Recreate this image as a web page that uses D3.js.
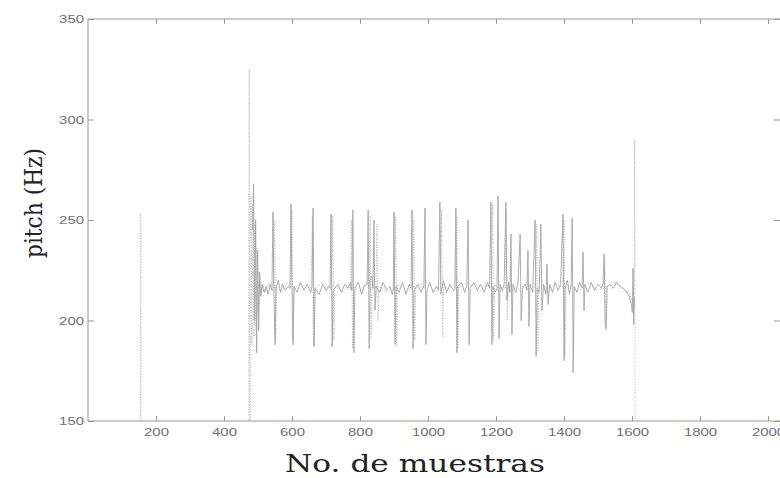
<!DOCTYPE html>
<html>
<head>
<meta charset="utf-8">
<style>
  body { margin: 0; background: #fff; }
  svg { display: block; }
  .tick text { font-family: "Liberation Sans", Arial, sans-serif; font-size: 11px; fill: #707070; }
  .tick line { stroke: #999; }
  .axis-title { font-family: "DejaVu Serif", serif; fill: #222; }
</style>
</head>
<body>
<div id="chart"></div>
<script src="https://cdn.jsdelivr.net/npm/d3@7"></script>
<script>
// tick values
const xTicks = [200, 400, 600, 800, 1000, 1200, 1400, 1600, 1800, 2000];
const yTicks = [150, 200, 250, 300, 350];

// pitch track, solid line  [muestra, Hz]
const solidTrack = [
  [484,245],[487,268],[490,200],[493,250],[496,184],[499,235],[502,195],[505,224],[508,212],[512,218],
  [518,214],[524,217],[530,213],[536,218],[541,215],[544,254],[547,213],[550,188],[553,216],[560,220],
  [566,214],[572,218],[580,215],[588,217],[594,216],[597,258],[600,215],[603,188],[606,217],[615,214],
  [625,219],[635,215],[645,218],[655,214],[659,217],[662,256],[665,187],[668,216],[680,213],[690,218],
  [700,215],[708,217],[712,216],[715,253],[718,187],[721,215],[735,218],[745,214],[755,218],[765,216],
  [772,219],[776,215],[779,255],[782,184],[785,216],[795,219],[805,213],[812,217],[821,218],[824,255],
  [827,186],[830,220],[835,222],[838,216],[841,250],[844,205],[848,217],[858,214],[868,219],[878,215],
  [888,217],[895,213],[898,216],[900,254],[903,188],[906,217],[915,214],[925,219],[935,213],[945,218],
  [950,216],[953,255],[956,186],[959,215],[970,218],[980,214],[986,217],[988,216],[991,256],[994,188],
  [997,215],[1005,219],[1015,214],[1025,217],[1031,215],[1035,259],[1038,213],[1045,220],[1055,214],
  [1065,218],[1075,215],[1079,216],[1082,256],[1085,184],[1088,217],[1098,219],[1108,214],[1114,217],
  [1118,250],[1121,188],[1124,216],[1135,219],[1145,215],[1155,218],[1165,214],[1175,219],[1181,216],
  [1185,259],[1188,188],[1191,217],[1198,214],[1203,216],[1206,262],[1209,191],[1212,218],[1218,215],
  [1224,218],[1229,259],[1232,210],[1237,219],[1241,214],[1244,243],[1247,193],[1250,218],[1258,214],
  [1265,219],[1271,243],[1274,200],[1278,216],[1286,218],[1291,215],[1294,235],[1297,197],[1300,218],
  [1308,214],[1315,250],[1318,182],[1321,216],[1327,214],[1332,248],[1335,205],[1340,218],[1347,213],
  [1350,228],[1353,208],[1358,218],[1366,214],[1374,219],[1382,215],[1390,218],[1397,253],[1400,180],
  [1403,216],[1410,220],[1416,213],[1421,218],[1424,251],[1427,174],[1430,217],[1438,214],[1446,219],
  [1453,216],[1456,234],[1459,205],[1462,218],[1470,214],[1480,219],[1490,215],[1500,218],[1510,216],
  [1515,219],[1518,233],[1521,198],[1524,196],[1527,217],[1535,218],[1545,216],[1555,219],[1565,217],
  [1575,216],[1585,214],[1592,212],[1598,208],[1601,204],[1603,226],[1605,198],[1607,212]
];

// pitch track, dotted line  [muestra, Hz]  (0 = sin voz)
const dottedTrack = [
  [0,0],[154,0],[155,253],[156,0],[473,0],[474,325],[475,0],[478,0],[479,262],[482,188],
  [485,258],[488,192],[491,248],[494,196],[497,236],[500,204],[504,224],[508,212],[514,218],[522,214],
  [532,219],[540,215],[546,216],[549,250],[552,190],[555,217],[570,214],[585,219],[596,216],[600,255],
  [603,190],[606,216],[625,218],[645,214],[656,217],[660,252],[663,188],[666,216],[690,219],[710,215],
  [717,216],[720,252],[723,190],[726,217],[750,214],[770,218],[772,215],[775,250],[778,186],[781,217],
  [800,214],[820,219],[827,216],[830,252],[833,192],[836,218],[847,216],[850,248],[853,200],[856,217],
  [880,214],[902,216],[905,252],[908,187],[911,218],[935,215],[955,216],[958,250],[961,190],[964,217],
  [1000,219],[1020,214],[1037,216],[1040,255],[1043,192],[1046,218],[1070,214],[1082,216],[1085,252],
  [1088,186],[1091,217],[1120,219],[1150,214],[1170,218],[1187,216],[1190,258],[1193,190],[1196,218],
  [1215,214],[1227,216],[1230,255],[1233,200],[1236,218],[1260,214],[1290,219],[1317,216],[1320,248],
  [1323,185],[1326,217],[1350,214],[1375,219],[1397,216],[1400,250],[1403,182],[1406,218],[1440,214],
  [1470,219],[1500,215],[1517,216],[1520,230],[1523,195],[1526,217],[1550,219],[1575,215],[1590,214],
  [1600,210],[1606,206],[1608,290],[1610,0],[2000,0]
];

const width = 780, height = 478;
const plotLeft = 88, plotRight = 782, plotTop = 19, plotBottom = 421;

const x = d3.scaleLinear().domain([0, 2000]).range([plotLeft, 768]);
const y = d3.scaleLinear().domain([150, 350]).range([plotBottom, plotTop]);

const svg = d3.select("#chart").append("svg")
  .attr("width", width)
  .attr("height", height);

svg.append("defs").append("clipPath").attr("id", "plot")
  .append("rect")
  .attr("x", plotLeft).attr("y", plotTop)
  .attr("width", plotRight - plotLeft).attr("height", plotBottom - plotTop);

const line = d3.line()
  .x(d => x(d[0]))
  .y(d => y(d[1]));

const plot = svg.append("g").attr("clip-path", "url(#plot)");

plot.append("path")
  .datum(dottedTrack)
  .attr("d", line)
  .attr("fill", "none")
  .attr("stroke", "#b4b4b4")
  .attr("stroke-width", 1)
  .attr("stroke-dasharray", "1,1.6");

plot.append("path")
  .datum(solidTrack)
  .attr("d", line)
  .attr("fill", "none")
  .attr("stroke", "#a4a4a4")
  .attr("stroke-width", 0.9);

// ejes estilo matlab: marcas hacia dentro
const stretchLabels = g => g.selectAll(".tick text")
  .attr("textLength", function () { return this.textContent.length * 8.3; })
  .attr("lengthAdjust", "spacingAndGlyphs");

const fmt = d3.format("d");

svg.append("g")
  .attr("transform", `translate(0,${plotBottom})`)
  .call(d3.axisBottom(x).tickValues(xTicks).tickFormat(fmt).tickSizeInner(-5).tickSizeOuter(0).tickPadding(7))
  .call(g => g.select(".domain").remove())
  .call(stretchLabels);

svg.append("g")
  .attr("transform", `translate(0,${plotTop})`)
  .call(d3.axisTop(x).tickValues(xTicks).tickSizeInner(-5).tickSizeOuter(0).tickFormat(""))
  .call(g => g.select(".domain").remove());

svg.append("g")
  .attr("transform", `translate(${plotLeft},0)`)
  .call(d3.axisLeft(y).tickValues(yTicks).tickFormat(fmt).tickSizeInner(-6).tickSizeOuter(0).tickPadding(4))
  .call(g => g.select(".domain").remove())
  .call(stretchLabels);

svg.append("g")
  .attr("transform", `translate(${plotRight},0)`)
  .call(d3.axisRight(y).tickValues(yTicks).tickSizeInner(-8).tickSizeOuter(0).tickFormat(""))
  .call(g => g.select(".domain").remove());

svg.append("rect")
  .attr("x", plotLeft).attr("y", plotTop)
  .attr("width", plotRight - plotLeft).attr("height", plotBottom - plotTop)
  .attr("fill", "none")
  .attr("stroke", "#999");

svg.append("text")
  .attr("class", "axis-title")
  .attr("x", 415).attr("y", 472)
  .attr("text-anchor", "middle")
  .attr("font-size", 25)
  .attr("textLength", 260)
  .attr("lengthAdjust", "spacingAndGlyphs")
  .text("No. de muestras");

svg.append("text")
  .attr("class", "axis-title")
  .attr("transform", "translate(42,203) rotate(-90)")
  .attr("text-anchor", "middle")
  .attr("font-size", 24)
  .attr("textLength", 110)
  .attr("lengthAdjust", "spacingAndGlyphs")
  .text("pitch (Hz)");
</script>
</body>
</html>
